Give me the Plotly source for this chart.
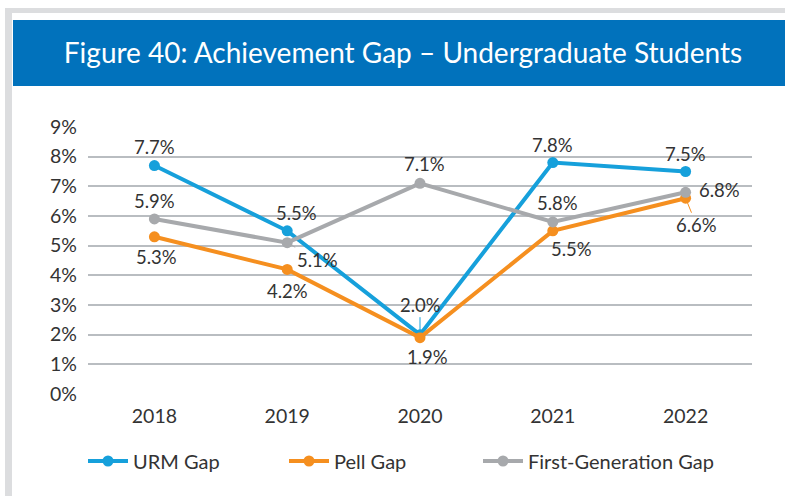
import plotly.graph_objects as go

years = ["2018", "2019", "2020", "2021", "2022"]
urm_gap = [7.7, 5.5, 2.0, 7.8, 7.5]
pell_gap = [5.3, 4.2, 1.9, 5.5, 6.6]
first_gen_gap = [5.9, 5.1, 7.1, 5.8, 6.8]
y_ticks = [0, 1, 2, 3, 4, 5, 6, 7, 8, 9]
y_tick_labels = [f"{v}%" for v in y_ticks]

BLUE = "#16A0DB"
ORANGE = "#F58F1F"
GRAY = "#A7A9AC"
TEXT = "#333333"
FONT = "Lato"

W, H = 785, 496
L, R, T, B = 88, 33, 127, 102
PW, PH = W - L - R, H - T - B


def px_x(px):
    return (px - L) / PW


def px_y(py):
    return (H - B - py) / PH


fig = go.Figure()
series = [("URM Gap", urm_gap, BLUE, "legend", 87),
          ("Pell Gap", pell_gap, ORANGE, "legend2", 288),
          ("First-Generation Gap", first_gen_gap, GRAY, "legend3", 482)]
for name, vals, col, leg, _ in series:
    fig.add_trace(go.Scatter(
        x=years, y=vals, name=name, mode="lines+markers",
        line=dict(color=col, width=4),
        marker=dict(color=col, size=11),
        cliponaxis=False, legend=leg,
    ))

# label offsets (pixels): (dx, dy, leader line)
label_style = {
    "URM Gap": [(0, -19, False), (9, -18, False), (0, -30, True), (0, -18, False), (0, -18, False)],
    "Pell Gap": [(2, 20, False), (0, 22, False), (7, 19, False), (19, 18, False), (11, 27, True)],
    "First-Generation Gap": [(0, -18, False), (30, 17, True), (4, -19, False), (5, -19, False), (34, -2, False)],
}
annotations = []
for name, vals, col, _, _ in series:
    for i, v in enumerate(vals):
        dx, dy, arrow = label_style[name][i]
        a = dict(x=i, y=v, xref="x", yref="y", text=f"{v:.1f}%",
                 font=dict(family=FONT, size=18.5, color=TEXT))
        if arrow:
            a.update(showarrow=True, ax=dx, ay=dy, arrowhead=0, arrowwidth=1,
                     arrowcolor=col, standoff=2)
        else:
            a.update(showarrow=False, xshift=dx, yshift=-dy)
        annotations.append(a)

shapes = [
    dict(type="rect", xref="paper", yref="paper", x0=px_x(5), x1=px_x(790),
         y0=px_y(13), y1=px_y(8), fillcolor="#DCDDDF", line=dict(width=0), layer="below"),
    dict(type="rect", xref="paper", yref="paper", x0=px_x(5), x1=px_x(12),
         y0=px_y(500), y1=px_y(8), fillcolor="#DCDDDF", line=dict(width=0), layer="below"),
    dict(type="rect", xref="paper", yref="paper", x0=px_x(13), x1=px_x(790),
         y0=px_y(86), y1=px_y(20), fillcolor="#0172BC", line=dict(width=0), layer="below"),
]

legend_common = dict(orientation="h", xanchor="left", y=px_y(461), yanchor="middle",
                     font=dict(size=20, color=TEXT, family=FONT), bgcolor="rgba(0,0,0,0)",
                     itemwidth=40)
legends = {}
for _, _, _, leg, sx in series:
    legends[leg] = dict(legend_common, x=px_x(sx - 4))

fig.update_layout(
    width=W, height=H,
    margin=dict(l=L, r=R, t=T, b=B),
    paper_bgcolor="white", plot_bgcolor="white",
    font=dict(family=FONT, color=TEXT),
    title=dict(text="Figure 40: Achievement Gap – Undergraduate Students",
               x=403 / W, xanchor="center", xref="container",
               y=1 - 53 / H, yanchor="middle", yref="container",
               font=dict(family=FONT, size=28, color="white")),
    xaxis=dict(type="category", range=[-0.5, 4.5], showgrid=False, zeroline=False,
               showline=False, ticks="", ticklabelstandoff=8,
               tickfont=dict(size=19.5, color=TEXT)),
    yaxis=dict(range=[0, 9], tickvals=y_ticks, ticktext=y_tick_labels,
               showgrid=True, gridcolor="#B9BDC1", gridwidth=1.5, zeroline=False,
               showline=False, ticks="", ticklabelstandoff=10,
               tickfont=dict(size=19.5, color=TEXT)),
    showlegend=True,
    annotations=annotations,
    shapes=shapes,
    **legends,
)

fig.write_html("out.html", config={"displayModeBar": False},
               post_script="document.body.style.margin='0';document.body.style.overflow='hidden';")
